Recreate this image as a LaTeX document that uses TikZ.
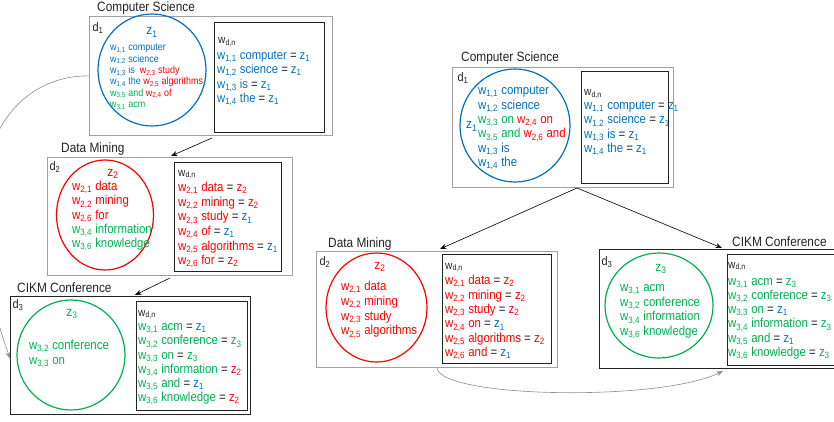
\documentclass[tikz,border=0pt]{standalone}
\usepackage{fontspec}
\setmainfont{Liberation Sans}[FakeStretch=0.88]
\usetikzlibrary{shapes.geometric,arrows.meta}
\definecolor{cb}{RGB}{0,112,192}
\definecolor{cr}{RGB}{255,0,0}
\definecolor{cg}{RGB}{0,176,80}
\definecolor{tx}{RGB}{35,35,35}
\definecolor{gl}{RGB}{160,160,160}
\definecolor{gc}{RGB}{140,140,140}
\newcommand\W[1]{w\textsubscript{#1}}
\newcommand\Z[1]{z\textsubscript{#1}}
\newcommand\EQ{\space\textcolor{tx}{=}\space}
\newcommand\bl[1]{\textcolor{cb}{#1}}
\newcommand\rd[1]{\textcolor{cr}{#1}}
\newcommand\gr[1]{\textcolor{cg}{#1}}
\newcommand\st{\rule{0pt}{10pt}}
\newcommand\sst{\rule{0pt}{8pt}}
\tikzset{
  outg/.style={draw=gl, line width=0.8pt, rectangle, inner sep=0, anchor=north west},
  outk/.style={draw=tx, line width=0.9pt, rectangle, inner sep=0, anchor=north west},
  inbox/.style={draw=tx, line width=1pt, rectangle, inner sep=0, anchor=north west},
  ring/.style={ellipse, line width=1.2pt, inner sep=0},
  ttl/.style={font=\fontsize{13.5}{15}\selectfont, text=tx, inner sep=0, anchor=west},
  dlab/.style={font=\fontsize{12.5}{14}\selectfont, text=tx, inner sep=0},
  wdn/.style={font=\fontsize{11.5}{13}\selectfont, text=tx, inner sep=0, anchor=base west},
  zl/.style={font=\fontsize{13.5}{15}\selectfont, inner sep=0, anchor=base},
  lines/.style={inner sep=0, anchor=north west, align=left},
  arr/.style={-{Stealth[length=6.5pt,width=5pt]}, line width=0.6pt, draw=black},
  garr/.style={-{Stealth[length=6.5pt,width=5pt]}, line width=0.6pt, draw=gc},
}
\begin{document}
\begin{tikzpicture}[x=1pt,y=-1pt]
\useasboundingbox (0,0) rectangle (834,422);
% ---------------- left d1
\node[ttl] (tl1) at (97,8) {Computer Science};
\node[outg, minimum width=243pt, minimum height=119pt] (o1) at (89,16) {};
\node[inbox, minimum width=110pt, minimum height=110pt] (i1) at (214,22) {};
\node[ring, draw=cb, minimum width=108pt, minimum height=112pt] (c1) at (152,70) {};
\node[dlab] (d1) at (98,28) {d\textsubscript{1}};
\node[zl, text=cb] (z1) at (152,35) {\Z{1}};
\node[lines, font=\fontsize{10.2}{11.4}\selectfont] (l1) at (110,42.5) {\sst\bl{\W{1,1} computer}\\
\bl{\W{1,2} science}\\
\bl{\W{1,3} is}\hspace{5pt}\rd{\W{2,3} study}\\
\bl{\W{1,4} the} \rd{\W{2,5} algorithms}\\
\gr{\W{3,5} and} \rd{\W{2,4} of}\\
\gr{\W{3,1} acm}};
\node[wdn] (w1) at (218,44) {w\textsubscript{d,n}};
\node[lines, font=\fontsize{12.8}{14.5}\selectfont] (r1) at (217,49) {\st\bl{\W{1,1} computer}\EQ\bl{\Z{1}}\\
\bl{\W{1,2} science}\EQ\bl{\Z{1}}\\
\bl{\W{1,3} is}\EQ\bl{\Z{1}}\\
\bl{\W{1,4} the}\EQ\bl{\Z{1}}};
% ---------------- left d2
\node[ttl] (tl2) at (61,149) {Data Mining};
\node[outg, minimum width=245pt, minimum height=118pt] (o2) at (47,157) {};
\node[inbox, minimum width=107pt, minimum height=109pt] (i2) at (174,162) {};
\node[ring, draw=cr, minimum width=97pt, minimum height=110pt] (c2) at (105,215) {};
\node[dlab] (d2) at (55,167) {d\textsubscript{2}};
\node[zl, text=cr] (z2) at (113,176) {\Z{2}};
\node[lines, font=\fontsize{13}{14.2}\selectfont] (l2) at (72,180.5) {\st\rd{\W{2,1} data}\\
\rd{\W{2,2} mining}\\
\rd{\W{2,6} for}\\
\gr{\W{3,4} information}\\
\gr{\W{3,6} knowledge}};
\node[wdn] (w2) at (178,176) {w\textsubscript{d,n}};
\node[lines, font=\fontsize{13}{14.6}\selectfont] (r2) at (178,181.5) {\st\rd{\W{2,1} data}\EQ\rd{\Z{2}}\\
\rd{\W{2,2} mining}\EQ\rd{\Z{2}}\\
\rd{\W{2,3} study}\EQ\bl{\Z{1}}\\
\rd{\W{2,4} of}\EQ\bl{\Z{1}}\\
\rd{\W{2,5} algorithms}\EQ\bl{\Z{1}}\\
\rd{\W{2,6} for}\EQ\rd{\Z{2}}};
% ---------------- left d3
\node[ttl] (tl3) at (17,288) {CIKM Conference};
\node[outk, minimum width=240pt, minimum height=118pt] (o3) at (10,296) {};
\node[inbox, minimum width=111pt, minimum height=109pt] (i3) at (136,301) {};
\node[ring, draw=cg, minimum width=108pt, minimum height=110pt] (c3) at (71,355) {};
\node[dlab] (d3) at (18,305) {d\textsubscript{3}};
\node[zl, text=cg] (z3) at (72,316) {\Z{3}};
\node[lines, font=\fontsize{13}{15}\selectfont] (l3) at (29,339.5) {\st\gr{\W{3,2} conference}\\
\gr{\W{3,3} on}};
\node[wdn] (w3) at (138,316) {w\textsubscript{d,n}};
\node[lines, font=\fontsize{13}{14.2}\selectfont] (r3) at (138,320.5) {\st\gr{\W{3,1} acm}\EQ\bl{\Z{1}}\\
\gr{\W{3,2} conference}\EQ\gr{\Z{3}}\\
\gr{\W{3,3} on}\EQ\gr{\Z{3}}\\
\gr{\W{3,4} information}\EQ\rd{\Z{2}}\\
\gr{\W{3,5} and}\EQ\bl{\Z{1}}\\
\gr{\W{3,6} knowledge}\EQ\rd{\Z{2}}};
% ---------------- right d1
\node[ttl] (tr1) at (461,58) {Computer Science};
\node[outg, minimum width=221pt, minimum height=120pt] (o4) at (452,67) {};
\node[inbox, minimum width=87pt, minimum height=112pt] (i4) at (581,71) {};
\node[ring, draw=cb, minimum width=110pt, minimum height=113pt] (c4) at (515,125.5) {};
\node[dlab] (d4) at (463,78) {d\textsubscript{1}};
\node[zl, text=cb, anchor=base west] (z4) at (466,129) {\Z{1}};
\node[lines, font=\fontsize{13}{14.4}\selectfont] (l4) at (478,84.5) {\st\bl{\W{1,1} computer}\\
\bl{\W{1,2} science}\\
\gr{\W{3,3} on} \rd{\W{2,4} on}\\
\gr{\W{3,5} and} \rd{\W{2,6} and}\\
\bl{\W{1,3} is}\\
\bl{\W{1,4} the}};
\node[wdn] (w4) at (584,96) {w\textsubscript{d,n}};
\node[lines, font=\fontsize{13}{14.3}\selectfont] (r4) at (584,99.5) {\st\bl{\W{1,1} computer}\EQ\bl{\Z{1}}\\
\bl{\W{1,2} science}\EQ\bl{\Z{1}}\\
\bl{\W{1,3} is}\EQ\bl{\Z{1}}\\
\bl{\W{1,4} the}\EQ\bl{\Z{1}}};
% ---------------- right d2
\node[ttl] (tr2) at (328,244) {Data Mining};
\node[outg, minimum width=241pt, minimum height=116pt] (o5) at (316,251) {};
\node[inbox, minimum width=109pt, minimum height=109pt] (i5) at (442,254) {};
\node[ring, draw=cr, minimum width=101pt, minimum height=109pt] (c5) at (376.5,307.5) {};
\node[dlab] (d5) at (325,262) {d\textsubscript{2}};
\node[zl, text=cr] (z5) at (380,269) {\Z{2}};
\node[lines, font=\fontsize{13}{14.7}\selectfont] (l5) at (341,280.5) {\st\rd{\W{2,1} data}\\
\rd{\W{2,2} mining}\\
\rd{\W{2,3} study}\\
\rd{\W{2,5} algorithms}};
\node[wdn] (w5) at (445,269) {w\textsubscript{d,n}};
\node[lines, font=\fontsize{13}{14.4}\selectfont] (r5) at (445,274.5) {\st\rd{\W{2,1} data}\EQ\rd{\Z{2}}\\
\rd{\W{2,2} mining}\EQ\rd{\Z{2}}\\
\rd{\W{2,3} study}\EQ\rd{\Z{2}}\\
\rd{\W{2,4} on}\EQ\bl{\Z{1}}\\
\rd{\W{2,5} algorithms}\EQ\rd{\Z{2}}\\
\rd{\W{2,6} and}\EQ\bl{\Z{1}}};
% ---------------- right d3
\node[ttl] (tr3) at (732,242) {CIKM Conference};
\node[outk, minimum width=250pt, minimum height=119pt] (o6) at (599,249) {};
\node[inbox, minimum width=120pt, minimum height=111pt] (i6) at (727,254) {};
\node[ring, draw=cg, minimum width=108pt, minimum height=105pt] (c6) at (659,305.5) {};
\node[dlab] (d6) at (607,262) {d\textsubscript{3}};
\node[zl, text=cg] (z6) at (661,271) {\Z{3}};
\node[lines, font=\fontsize{13}{14.6}\selectfont] (l6) at (620,281.5) {\st\gr{\W{3,1} acm}\\
\gr{\W{3,2} conference}\\
\gr{\W{3,4} information}\\
\gr{\W{3,6} knowledge}};
\node[wdn] (w6) at (728,268) {w\textsubscript{d,n}};
\node[lines, font=\fontsize{13}{14.2}\selectfont] (r6) at (728,275) {\st\gr{\W{3,1} acm}\EQ\gr{\Z{3}}\\
\gr{\W{3,2} conference}\EQ\gr{\Z{3}}\\
\gr{\W{3,3} on}\EQ\bl{\Z{1}}\\
\gr{\W{3,4} information}\EQ\gr{\Z{3}}\\
\gr{\W{3,5} and}\EQ\bl{\Z{1}}\\
\gr{\W{3,6} knowledge}\EQ\gr{\Z{3}}};
% ---------------- connectors
\draw[arr] ([shift={(-2,5)}]i1.south west) -- ([shift={(-3,-6)}]i2.north west);
\draw[arr] ([shift={(-4,6)}]i2.south west) -- ([shift={(-1,-6)}]i3.north west);
\draw[arr] ([shift={(-4,4)}]i4.south west) -- ([shift={(-2,-5)}]i5.north west);
\draw[arr] ([shift={(-4,4)}]i4.south west) -- ([shift={(-5,-6)}]i6.north west);
\draw[garr] (o1.west) .. controls (10,75) and (-60,160) .. ([yshift=-3pt]o3.west);
\draw[garr] (o5.south) .. controls (440,398) and (660,402) .. ([shift={(-4,5)}]i6.south west);
\end{tikzpicture}
\end{document}
